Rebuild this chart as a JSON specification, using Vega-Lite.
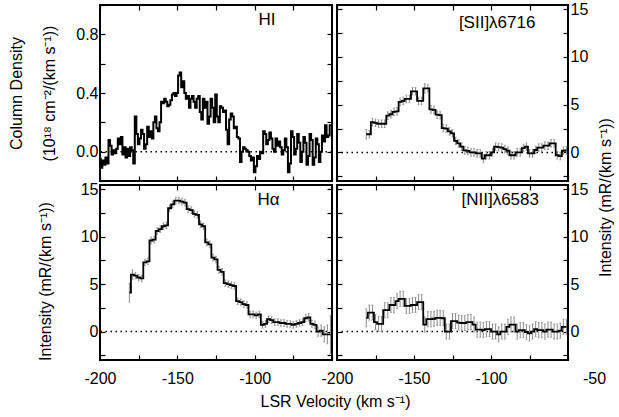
{
"$schema": "https://vega.github.io/schema/vega-lite/v6.json",
"padding": {"left": 7, "top": -4, "right": 0, "bottom": 0},
"bounds": "flush",
"spacing": {"row": 4, "column": 5},
"columns": 2,
"datasets": {
"hi": [
{"v":-200,"y":-0.05},{"v":-199,"y":-0.11},{"v":-198,"y":-0.06},{"v":-197,"y":-0.09},{"v":-196,"y":-0.04},{"v":-195,"y":-0.08},{"v":-194,"y":0.08},{"v":-193,"y":0.04},{"v":-192,"y":-0.02},{"v":-191,"y":0.01},
{"v":-190,"y":-0.01},{"v":-189,"y":0.02},{"v":-188,"y":0.09},{"v":-187,"y":0.05},{"v":-186,"y":0.1},{"v":-185,"y":-0.02},{"v":-184,"y":0.03},{"v":-183,"y":-0.04},{"v":-182,"y":0.02},{"v":-181,"y":-0.03},
{"v":-180,"y":0.03},{"v":-179,"y":0.01},{"v":-178,"y":-0.08},{"v":-177,"y":0.24},{"v":-176,"y":0.12},{"v":-175,"y":0.05},{"v":-174,"y":0.09},{"v":-173,"y":0.15},{"v":-172,"y":0.12},{"v":-171,"y":0.02},
{"v":-170,"y":0.05},{"v":-169,"y":0.17},{"v":-168,"y":0.1},{"v":-167,"y":0.14},{"v":-166,"y":0.09},{"v":-165,"y":0.2},{"v":-164,"y":0.24},{"v":-163,"y":0.16},{"v":-162,"y":0.14},{"v":-161,"y":0.2},
{"v":-160,"y":0.34},{"v":-159,"y":0.33},{"v":-158,"y":0.36},{"v":-157,"y":0.34},{"v":-156,"y":0.31},{"v":-155,"y":0.32},{"v":-154,"y":0.35},{"v":-153,"y":0.39},{"v":-152,"y":0.4},{"v":-151,"y":0.38},
{"v":-150,"y":0.4},{"v":-149,"y":0.52},{"v":-148,"y":0.54},{"v":-147,"y":0.44},{"v":-146,"y":0.48},{"v":-145,"y":0.4},{"v":-144,"y":0.36},{"v":-143,"y":0.38},{"v":-142,"y":0.3},{"v":-141,"y":0.36},
{"v":-140,"y":0.38},{"v":-139,"y":0.34},{"v":-138,"y":0.3},{"v":-137,"y":0.36},{"v":-136,"y":0.38},{"v":-135,"y":0.27},{"v":-134,"y":0.22},{"v":-133,"y":0.36},{"v":-132,"y":0.3},{"v":-131,"y":0.34},
{"v":-130,"y":0.19},{"v":-129,"y":0.24},{"v":-128,"y":0.36},{"v":-127,"y":0.3},{"v":-126,"y":0.2},{"v":-125,"y":0.39},{"v":-124,"y":0.24},{"v":-123,"y":0.2},{"v":-122,"y":0.31},{"v":-121,"y":0.3},
{"v":-120,"y":0.27},{"v":-119,"y":0.28},{"v":-118,"y":0.15},{"v":-117,"y":0.05},{"v":-116,"y":0.22},{"v":-115,"y":0.26},{"v":-114,"y":0.24},{"v":-113,"y":0.16},{"v":-112,"y":0.17},{"v":-111,"y":0.1},
{"v":-110,"y":0.09},{"v":-109,"y":-0.07},{"v":-108,"y":0.0},{"v":-107,"y":0.03},{"v":-106,"y":0.02},{"v":-105,"y":0.01},{"v":-104,"y":0.0},{"v":-103,"y":-0.03},{"v":-102,"y":-0.06},{"v":-101,"y":-0.04},
{"v":-100,"y":-0.14},{"v":-99,"y":-0.1},{"v":-98,"y":-0.03},{"v":-97,"y":-0.05},{"v":-96,"y":0.0},{"v":-95,"y":-0.01},{"v":-94,"y":0.14},{"v":-93,"y":0.12},{"v":-92,"y":0.05},{"v":-91,"y":0.08},
{"v":-90,"y":0.13},{"v":-89,"y":0.09},{"v":-88,"y":0.02},{"v":-87,"y":0.0},{"v":-86,"y":0.09},{"v":-85,"y":0.04},{"v":-84,"y":0.07},{"v":-83,"y":0.03},{"v":-82,"y":-0.02},{"v":-81,"y":0.01},
{"v":-80,"y":0.09},{"v":-79,"y":0.03},{"v":-78,"y":-0.14},{"v":-77,"y":-0.08},{"v":-76,"y":0.14},{"v":-75,"y":0.1},{"v":-74,"y":-0.02},{"v":-73,"y":0.02},{"v":-72,"y":0.12},{"v":-71,"y":0.06},
{"v":-70,"y":-0.07},{"v":-69,"y":0.0},{"v":-68,"y":0.1},{"v":-67,"y":0.06},{"v":-66,"y":-0.09},{"v":-65,"y":-0.03},{"v":-64,"y":0.12},{"v":-63,"y":0.08},{"v":-62,"y":-0.09},{"v":-61,"y":-0.04},
{"v":-60,"y":0.09},{"v":-59,"y":0.05},{"v":-58,"y":-0.07},{"v":-57,"y":0.0},{"v":-56,"y":0.11},{"v":-55,"y":0.07},{"v":-54,"y":0.18},{"v":-53,"y":0.1},{"v":-52,"y":0.11},{"v":-51,"y":0.18},{"v":-50,"y":0.18}
],
"sii": [
{"v":-181,"y":1.9,"e":0.5},{"v":-179,"y":1.9,"e":0.4},{"v":-177,"y":3.16,"e":0.4},{"v":-175,"y":3.1,"e":0.4},{"v":-173,"y":3.0,"e":0.4},{"v":-171,"y":3.0,"e":0.4},{"v":-169,"y":3.0,"e":0.4},{"v":-167,"y":3.85,"e":0.4},{"v":-165,"y":4.0,"e":0.4},{"v":-163,"y":4.25,"e":0.4},
{"v":-161,"y":4.3,"e":0.4},{"v":-159,"y":5.3,"e":0.4},{"v":-157,"y":5.4,"e":0.4},{"v":-155,"y":5.6,"e":0.4},{"v":-153,"y":5.6,"e":0.4},{"v":-151,"y":6.4,"e":0.4},{"v":-149,"y":6.4,"e":0.4},{"v":-147,"y":5.4,"e":0.4},{"v":-145,"y":5.4,"e":0.4},{"v":-143,"y":6.7,"e":0.5},
{"v":-141,"y":6.7,"e":0.4},{"v":-139,"y":4.5,"e":0.4},{"v":-137,"y":4.45,"e":0.4},{"v":-135,"y":3.95,"e":0.4},{"v":-133,"y":3.9,"e":0.4},{"v":-131,"y":2.55,"e":0.4},{"v":-129,"y":2.5,"e":0.4},{"v":-127,"y":2.2,"e":0.4},{"v":-125,"y":2.0,"e":0.4},{"v":-123,"y":1.2,"e":0.4},
{"v":-121,"y":0.95,"e":0.4},{"v":-119,"y":0.6,"e":0.4},{"v":-117,"y":0.2,"e":0.4},{"v":-115,"y":0.15,"e":0.4},{"v":-113,"y":0.0,"e":0.4},{"v":-111,"y":0.0,"e":0.4},{"v":-109,"y":-0.1,"e":0.4},{"v":-107,"y":-0.1,"e":0.4},{"v":-105,"y":-0.65,"e":0.4},{"v":-103,"y":-0.3,"e":0.4},
{"v":-101,"y":-0.3,"e":0.4},{"v":-99,"y":0.0,"e":0.4},{"v":-97,"y":0.6,"e":0.4},{"v":-95,"y":0.55,"e":0.4},{"v":-93,"y":0.5,"e":0.4},{"v":-91,"y":0.35,"e":0.4},{"v":-89,"y":0.17,"e":0.4},{"v":-87,"y":-0.3,"e":0.4},{"v":-85,"y":-0.3,"e":0.4},{"v":-83,"y":0.0,"e":0.4},
{"v":-81,"y":0.0,"e":0.4},{"v":-79,"y":0.45,"e":0.4},{"v":-77,"y":0.6,"e":0.4},{"v":-75,"y":-0.1,"e":0.4},{"v":-73,"y":-0.1,"e":0.4},{"v":-71,"y":0.25,"e":0.4},{"v":-69,"y":0.5,"e":0.4},{"v":-67,"y":0.5,"e":0.4},{"v":-65,"y":0.7,"e":0.4},{"v":-63,"y":0.7,"e":0.4},
{"v":-61,"y":0.95,"e":0.4},{"v":-59,"y":0.95,"e":0.4},{"v":-57,"y":-0.3,"e":0.4},{"v":-55,"y":-0.4,"e":0.4},{"v":-53,"y":0.17,"e":0.4},{"v":-51,"y":0.2,"e":0.4}
],
"ha": [
{"v":-181,"y":4.1,"e":1.0},{"v":-179,"y":6.0,"e":0.5},{"v":-177,"y":5.9,"e":0.35},{"v":-175,"y":5.7,"e":0.35},{"v":-173,"y":5.6,"e":0.35},{"v":-171,"y":7.3,"e":0.35},{"v":-169,"y":7.4,"e":0.35},{"v":-167,"y":9.6,"e":0.35},{"v":-165,"y":9.7,"e":0.35},{"v":-163,"y":10.6,"e":0.35},
{"v":-161,"y":10.8,"e":0.35},{"v":-159,"y":11.1,"e":0.35},{"v":-157,"y":11.2,"e":0.35},{"v":-155,"y":13.0,"e":0.35},{"v":-153,"y":13.4,"e":0.35},{"v":-151,"y":13.8,"e":0.35},{"v":-149,"y":13.8,"e":0.35},{"v":-147,"y":13.7,"e":0.35},{"v":-145,"y":13.6,"e":0.35},{"v":-143,"y":12.9,"e":0.35},
{"v":-141,"y":12.8,"e":0.35},{"v":-139,"y":12.4,"e":0.35},{"v":-137,"y":12.3,"e":0.35},{"v":-135,"y":11.3,"e":0.35},{"v":-133,"y":11.1,"e":0.35},{"v":-131,"y":9.4,"e":0.35},{"v":-129,"y":9.2,"e":0.35},{"v":-127,"y":7.8,"e":0.35},{"v":-125,"y":7.6,"e":0.35},{"v":-123,"y":6.5,"e":0.35},
{"v":-121,"y":6.3,"e":0.35},{"v":-119,"y":5.1,"e":0.35},{"v":-117,"y":5.0,"e":0.35},{"v":-115,"y":4.9,"e":0.35},{"v":-113,"y":4.8,"e":0.35},{"v":-111,"y":3.2,"e":0.35},{"v":-109,"y":3.1,"e":0.35},{"v":-107,"y":2.9,"e":0.35},{"v":-105,"y":2.8,"e":0.35},{"v":-103,"y":1.8,"e":0.35},
{"v":-101,"y":1.8,"e":0.35},{"v":-99,"y":1.7,"e":0.35},{"v":-97,"y":1.8,"e":0.35},{"v":-95,"y":0.7,"e":0.35},{"v":-93,"y":0.8,"e":0.35},{"v":-91,"y":1.3,"e":0.35},{"v":-89,"y":1.2,"e":0.35},{"v":-87,"y":1.0,"e":0.35},{"v":-85,"y":1.0,"e":0.35},{"v":-83,"y":0.9,"e":0.35},
{"v":-81,"y":0.9,"e":0.35},{"v":-79,"y":0.8,"e":0.35},{"v":-77,"y":0.8,"e":0.35},{"v":-75,"y":0.7,"e":0.35},{"v":-73,"y":0.8,"e":0.35},{"v":-71,"y":0.9,"e":0.35},{"v":-69,"y":1.0,"e":0.35},{"v":-67,"y":1.4,"e":0.4},{"v":-65,"y":1.5,"e":0.4},{"v":-63,"y":0.8,"e":0.4},
{"v":-61,"y":0.7,"e":0.4},{"v":-59,"y":0.0,"e":0.5},{"v":-57,"y":0.1,"e":0.6},{"v":-55,"y":-0.3,"e":0.8},{"v":-53,"y":-0.3,"e":1.0},{"v":-51,"y":-0.3,"e":2.0}
],
"nii": [
{"v":-181,"y":1.45,"e":0.95},{"v":-179,"y":2.0,"e":0.8},{"v":-177,"y":2.0,"e":0.8},{"v":-175,"y":1.0,"e":0.8},{"v":-173,"y":0.8,"e":0.8},{"v":-171,"y":0.8,"e":0.8},{"v":-169,"y":2.25,"e":0.8},{"v":-167,"y":2.25,"e":0.8},{"v":-165,"y":2.8,"e":0.8},{"v":-163,"y":2.8,"e":0.8},
{"v":-161,"y":3.2,"e":0.8},{"v":-159,"y":3.45,"e":0.8},{"v":-157,"y":3.45,"e":0.8},{"v":-155,"y":2.7,"e":0.8},{"v":-153,"y":2.7,"e":0.8},{"v":-151,"y":2.8,"e":0.8},{"v":-149,"y":2.8,"e":0.8},{"v":-147,"y":3.1,"e":0.8},{"v":-145,"y":3.1,"e":0.8},{"v":-143,"y":0.74,"e":0.8},
{"v":-141,"y":1.3,"e":0.8},{"v":-139,"y":1.3,"e":0.8},{"v":-137,"y":1.35,"e":0.8},{"v":-135,"y":1.45,"e":0.8},{"v":-133,"y":1.45,"e":0.8},{"v":-131,"y":1.4,"e":0.8},{"v":-129,"y":0.0,"e":0.8},{"v":-127,"y":0.0,"e":0.8},{"v":-125,"y":1.1,"e":0.8},{"v":-123,"y":1.1,"e":0.8},
{"v":-121,"y":0.95,"e":0.8},{"v":-119,"y":0.9,"e":0.8},{"v":-117,"y":0.9,"e":0.8},{"v":-115,"y":1.0,"e":0.8},{"v":-113,"y":1.0,"e":0.8},{"v":-111,"y":0.74,"e":0.8},{"v":-109,"y":0.2,"e":0.8},{"v":-107,"y":0.2,"e":0.8},{"v":-105,"y":0.15,"e":0.8},{"v":-103,"y":0.25,"e":0.8},
{"v":-101,"y":0.25,"e":0.8},{"v":-99,"y":0.0,"e":0.8},{"v":-97,"y":0.0,"e":0.8},{"v":-95,"y":-0.3,"e":0.8},{"v":-93,"y":0.0,"e":0.8},{"v":-91,"y":0.0,"e":0.8},{"v":-89,"y":0.5,"e":0.8},{"v":-87,"y":0.74,"e":0.8},{"v":-85,"y":0.74,"e":0.8},{"v":-83,"y":0.0,"e":0.8},
{"v":-81,"y":0.15,"e":0.8},{"v":-79,"y":0.15,"e":0.8},{"v":-77,"y":-0.05,"e":0.8},{"v":-75,"y":-0.2,"e":0.8},{"v":-73,"y":0.0,"e":0.8},{"v":-71,"y":0.25,"e":0.8},{"v":-69,"y":0.15,"e":0.8},{"v":-67,"y":0.15,"e":0.8},{"v":-65,"y":0.0,"e":0.8},{"v":-63,"y":0.2,"e":0.8},
{"v":-61,"y":0.2,"e":0.8},{"v":-59,"y":0.0,"e":0.8},{"v":-57,"y":0.0,"e":0.8},{"v":-55,"y":0.1,"e":0.8},{"v":-53,"y":0.5,"e":0.8},{"v":-51,"y":0.5,"e":0.8}
]
},
"concat": [
{
"width": 232, "height": 176,
"data": {"name": "hi"},
"layer": [
{"data": {"values": [{}]}, "mark": {"type": "rule", "strokeDash": [1.5, 3.5], "strokeWidth": 1.5, "color": "black"}, "encoding": {"y": {"datum": 0, "type": "quantitative", "axis": null}}},
{"mark": {"type": "line", "interpolate": "step", "color": "black", "strokeWidth": 2},
 "encoding": {
  "x": {"field": "v", "type": "quantitative", "scale": {"domain": [-200, -50], "nice": false, "zero": false}, "axis": {"orient": "bottom", "values": [-200,-175,-150,-125,-100,-75,-50], "labels": false, "title": null}},
  "y": {"field": "y", "type": "quantitative", "scale": {"domain": [-0.2, 1.0], "nice": false, "zero": false}, "axis": {"orient": "left", "values": [-0.2,0,0.2,0.4,0.6,0.8,1.0], "format": ".1f", "labelExpr": "datum.label == '0.0' || datum.label == '0.4' || datum.label == '0.8' ? datum.label : ''", "title": ["Column Density", "(10¹⁸ cm⁻²/(km s⁻¹))"], "titleLineHeight": 33, "titlePadding": 18}}
 }},
{"mark": {"type": "point", "opacity": 0},
 "encoding": {
  "x": {"field": "v", "type": "quantitative", "axis": {"orient": "top", "values": [-200,-175,-150,-125,-100,-75,-50], "labels": false, "title": null}},
  "y": {"field": "y", "type": "quantitative", "axis": {"orient": "right", "values": [-0.2,0,0.2,0.4,0.6,0.8,1.0], "labels": false, "title": null}}
 }},
{"data": {"values": [{}]}, "mark": {"type": "text", "fontSize": 17},
 "encoding": {"x": {"datum": -92, "type": "quantitative", "axis": null}, "y": {"datum": 0.9, "type": "quantitative", "axis": null}, "text": {"value": "HI"}}}
],
"resolve": {"axis": {"x": "independent", "y": "independent"}}
},
{
"width": 231, "height": 176,
"data": {"name": "sii"},
"layer": [
{"data": {"values": [{}]}, "mark": {"type": "rule", "strokeDash": [1.5, 3.5], "strokeWidth": 1.5, "color": "black"}, "encoding": {"y": {"datum": 0, "type": "quantitative", "axis": null}}},
{"mark": {"type": "errorbar", "color": "#8c8c8c", "thickness": 1, "ticks": {"size": 2}},
 "encoding": {"x": {"field": "v", "type": "quantitative", "axis": null}, "y": {"field": "y", "type": "quantitative", "axis": null}, "yError": {"field": "e"}}},
{"mark": {"type": "line", "interpolate": "step", "color": "black", "strokeWidth": 1.8},
 "encoding": {
  "x": {"field": "v", "type": "quantitative", "scale": {"domain": [-200, -50], "nice": false, "zero": false}, "axis": {"orient": "bottom", "values": [-200,-175,-150,-125,-100,-75,-50], "labels": false, "title": null}},
  "y": {"field": "y", "type": "quantitative", "scale": {"domain": [-3, 15.45], "nice": false, "zero": false}, "axis": {"orient": "right", "values": [-2.5,0,2.5,5,7.5,10,12.5,15], "labelExpr": "datum.value % 5 == 0 ? datum.label : ''", "title": null}}
 }},
{"mark": {"type": "point", "opacity": 0},
 "encoding": {
  "x": {"field": "v", "type": "quantitative", "axis": {"orient": "top", "values": [-200,-175,-150,-125,-100,-75,-50], "labels": false, "title": null}},
  "y": {"field": "y", "type": "quantitative", "axis": {"orient": "left", "values": [-2.5,0,2.5,5,7.5,10,12.5,15], "labels": false, "title": null}}
 }},
{"data": {"values": [{}]}, "mark": {"type": "text", "fontSize": 17},
 "encoding": {"x": {"datum": -96, "type": "quantitative", "axis": null}, "y": {"datum": 13.6, "type": "quantitative", "axis": null}, "text": {"value": "[SII]λ6716"}}}
],
"resolve": {"axis": {"x": "independent", "y": "independent"}}
},
{
"width": 232, "height": 175,
"data": {"name": "ha"},
"layer": [
{"data": {"values": [{}]}, "mark": {"type": "rule", "strokeDash": [1.5, 3.5], "strokeWidth": 1.5, "color": "black"}, "encoding": {"y": {"datum": 0, "type": "quantitative", "axis": null}}},
{"mark": {"type": "errorbar", "color": "#8c8c8c", "thickness": 1, "ticks": {"size": 2}},
 "encoding": {"x": {"field": "v", "type": "quantitative", "axis": null}, "y": {"field": "y", "type": "quantitative", "axis": null}, "yError": {"field": "e"}}},
{"mark": {"type": "line", "interpolate": "step", "color": "black", "strokeWidth": 1.8},
 "encoding": {
  "x": {"field": "v", "type": "quantitative", "scale": {"domain": [-200, -50], "nice": false, "zero": false}, "axis": {"orient": "bottom", "values": [-200,-175,-150,-125,-100,-75,-50], "labelExpr": "datum.value % 50 == 0 && datum.value < -60 ? '' + datum.value : ''", "labelPadding": 15, "title": "LSR Velocity (km s⁻¹)", "titleX": 235, "titleAlign": "center", "titlePadding": 7}},
  "y": {"field": "y", "type": "quantitative", "scale": {"domain": [-3, 15.45], "nice": false, "zero": false}, "axis": {"orient": "left", "values": [-2.5,0,2.5,5,7.5,10,12.5,15], "labelExpr": "datum.value % 5 == 0 ? datum.label : ''", "title": "Intensity (mR/(km s⁻¹))", "titleY": 96, "titlePadding": 27}}
 }},
{"mark": {"type": "point", "opacity": 0},
 "encoding": {
  "x": {"field": "v", "type": "quantitative", "axis": {"orient": "top", "values": [-200,-175,-150,-125,-100,-75,-50], "labels": false, "title": null}},
  "y": {"field": "y", "type": "quantitative", "axis": {"orient": "right", "values": [-2.5,0,2.5,5,7.5,10,12.5,15], "labels": false, "title": null}}
 }},
{"data": {"values": [{}]}, "mark": {"type": "text", "fontSize": 17},
 "encoding": {"x": {"datum": -91, "type": "quantitative", "axis": null}, "y": {"datum": 13.9, "type": "quantitative", "axis": null}, "text": {"value": "Hα"}}}
],
"resolve": {"axis": {"x": "independent", "y": "independent"}}
},
{
"width": 231, "height": 175,
"data": {"name": "nii"},
"layer": [
{"data": {"values": [{}]}, "mark": {"type": "rule", "strokeDash": [1.5, 3.5], "strokeWidth": 1.5, "color": "black"}, "encoding": {"y": {"datum": 0, "type": "quantitative", "axis": null}}},
{"mark": {"type": "errorbar", "color": "#8c8c8c", "thickness": 1, "ticks": {"size": 2}},
 "encoding": {"x": {"field": "v", "type": "quantitative", "axis": null}, "y": {"field": "y", "type": "quantitative", "axis": null}, "yError": {"field": "e"}}},
{"mark": {"type": "line", "interpolate": "step", "color": "black", "strokeWidth": 1.8},
 "encoding": {
  "x": {"field": "v", "type": "quantitative", "scale": {"domain": [-200, -50], "nice": false, "zero": false}, "axis": {"orient": "bottom", "values": [-200,-175,-150,-125,-100,-75,-50], "labelExpr": "datum.value % 50 == 0 ? '' + datum.value : ''", "labelOffset": {"condition": {"test": "datum.value == -50", "value": 26}, "value": 0}, "labelPadding": 15, "title": null}},
  "y": {"field": "y", "type": "quantitative", "scale": {"domain": [-3, 15.45], "nice": false, "zero": false}, "axis": {"orient": "right", "values": [-2.5,0,2.5,5,7.5,10,12.5,15], "labelExpr": "datum.value % 5 == 0 ? datum.label : ''", "title": "Intensity (mR/(km s⁻¹))", "titleAngle": 270, "titleBaseline": "top", "titleY": 12, "titlePadding": 10}}
 }},
{"mark": {"type": "point", "opacity": 0},
 "encoding": {
  "x": {"field": "v", "type": "quantitative", "axis": {"orient": "top", "values": [-200,-175,-150,-125,-100,-75,-50], "labels": false, "title": null}},
  "y": {"field": "y", "type": "quantitative", "axis": {"orient": "left", "values": [-2.5,0,2.5,5,7.5,10,12.5,15], "labels": false, "title": null}}
 }},
{"data": {"values": [{}]}, "mark": {"type": "text", "fontSize": 17},
 "encoding": {"x": {"datum": -94, "type": "quantitative", "axis": null}, "y": {"datum": 13.9, "type": "quantitative", "axis": null}, "text": {"value": "[NII]λ6583"}}}
],
"resolve": {"axis": {"x": "independent", "y": "independent"}}
}
],
"config": {
"font": "Liberation Sans",
"view": {"stroke": "black", "strokeWidth": 2},
"axis": {"labelFontSize": 16, "titleFontSize": 16, "titleFontWeight": "normal", "labelColor": "black", "titleColor": "black", "tickColor": "black", "tickSize": -5, "tickWidth": 1.2, "domain": false, "grid": false, "labelFlush": false, "labelOverlap": false, "labelPadding": 7}
}
}
